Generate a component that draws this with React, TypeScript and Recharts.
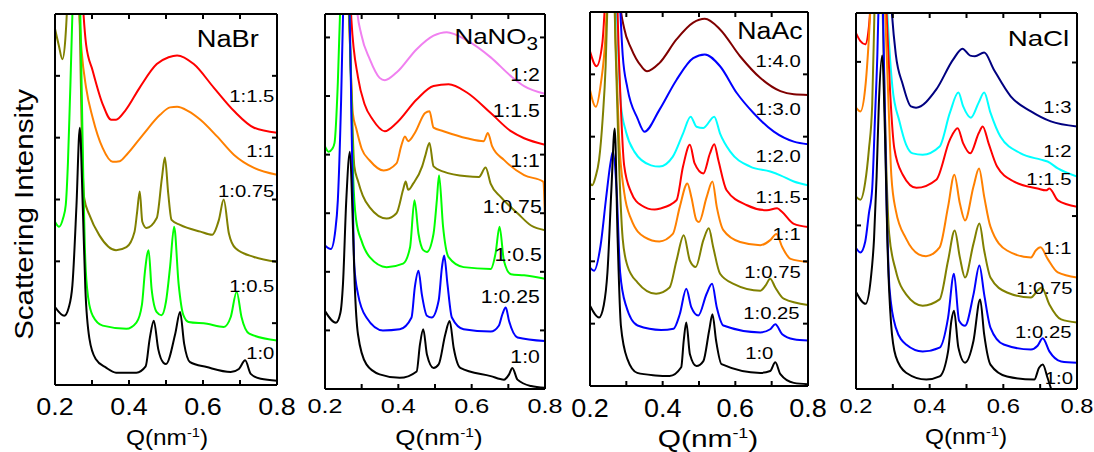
import { LineChart, Line, XAxis, YAxis, ReferenceDot } from "recharts"

type Pt = [number, number]

const FONT = '"Liberation Sans", Arial, sans-serif'
const H = 452
const qTicks = [0.2, 0.3, 0.4, 0.5, 0.6, 0.7, 0.8]

// NaBr
const nabr10: Pt[] = [[0.2,1.26],[0.225,1.12],[0.237,1.25],[0.247,1.61],[0.258,2.9],[0.267,4.16],[0.275,2.9],[0.282,1.56],[0.293,0.75],[0.31,0.42],[0.338,0.28],[0.365,0.2],[0.42,0.2],[0.445,0.3],[0.456,0.75],[0.467,1.04],[0.479,0.58],[0.493,0.36],[0.5,0.34],[0.525,0.83],[0.538,1.18],[0.549,0.67],[0.565,0.37],[0.61,0.29],[0.675,0.21],[0.697,0.26],[0.714,0.4],[0.729,0.18],[0.756,0.1],[0.8,0.07]]
const nabr105: Pt[] = [[0.2,2.64],[0.211,2.56],[0.222,2.7],[0.229,2.91],[0.235,3.6],[0.24,4.54],[0.247,6.0],[0.252,7.5],[0.262,7.5],[0.27,5.5],[0.276,3.5],[0.282,2.0],[0.29,1.4],[0.302,1.12],[0.329,0.96],[0.393,0.91],[0.42,1.01],[0.435,1.3],[0.443,1.83],[0.453,2.18],[0.461,1.56],[0.475,1.18],[0.488,1.13],[0.5,1.35],[0.511,1.91],[0.522,2.56],[0.534,1.64],[0.547,1.13],[0.561,1.02],[0.611,0.99],[0.656,0.94],[0.675,1.1],[0.691,1.51],[0.704,1.1],[0.725,0.83],[0.8,0.72]]
const nabr1075: Pt[] = [[0.2,5.76],[0.21,5.5],[0.22,5.27],[0.228,5.6],[0.234,6.3],[0.24,7.5],[0.26,7.5],[0.268,5.5],[0.273,3.9],[0.279,3.02],[0.293,2.75],[0.32,2.42],[0.365,2.18],[0.393,2.23],[0.415,2.48],[0.422,2.8],[0.429,3.13],[0.436,2.64],[0.447,2.54],[0.475,2.7],[0.489,3.35],[0.497,3.68],[0.506,3.1],[0.515,2.67],[0.538,2.59],[0.593,2.48],[0.625,2.43],[0.643,2.67],[0.656,3.0],[0.67,2.45],[0.688,2.21],[0.738,2.07],[0.8,1.99]]
const nabr11: Pt[] = [[0.245,8],[0.262,6.4],[0.272,5.4],[0.284,4.81],[0.302,4.32],[0.329,3.83],[0.356,3.61],[0.375,3.62],[0.393,3.72],[0.438,4.05],[0.484,4.37],[0.511,4.49],[0.53,4.5],[0.56,4.43],[0.593,4.29],[0.638,4.02],[0.684,3.72],[0.738,3.51],[0.8,3.4]]
const nabr115: Pt[] = [[0.262,8],[0.275,6.2],[0.284,5.51],[0.302,5.08],[0.329,4.54],[0.352,4.29],[0.365,4.29],[0.389,4.43],[0.429,4.81],[0.475,5.19],[0.507,5.3],[0.53,5.33],[0.575,5.19],[0.629,4.81],[0.684,4.43],[0.738,4.16],[0.8,4.08]]

// NaNO3
const nano10: Pt[] = [[0.2,1.33],[0.23,1.13],[0.242,1.3],[0.249,1.79],[0.258,3.22],[0.268,4.05],[0.275,3.0],[0.281,1.79],[0.29,0.93],[0.313,0.42],[0.349,0.25],[0.404,0.19],[0.45,0.3],[0.459,0.76],[0.468,1.02],[0.478,0.59],[0.496,0.36],[0.51,0.42],[0.528,0.93],[0.54,1.16],[0.551,0.7],[0.569,0.36],[0.652,0.22],[0.688,0.16],[0.702,0.25],[0.711,0.36],[0.725,0.16],[0.762,0.05],[0.8,0.02]]
const nano1025: Pt[] = [[0.2,2.45],[0.216,2.39],[0.228,2.7],[0.235,3.22],[0.244,4.94],[0.25,6.6],[0.258,7.5],[0.266,6.8],[0.273,4.3],[0.28,2.1],[0.29,1.62],[0.313,1.22],[0.358,1.0],[0.404,1.02],[0.436,1.22],[0.445,1.74],[0.455,2.02],[0.464,1.62],[0.478,1.25],[0.491,1.22],[0.51,1.51],[0.519,2.08],[0.525,2.28],[0.534,1.79],[0.546,1.22],[0.578,1.02],[0.652,0.98],[0.674,1.08],[0.684,1.28],[0.693,1.39],[0.702,1.16],[0.725,0.88],[0.8,0.82]]
const nano105: Pt[] = [[0.2,4.14],[0.21,4.05],[0.22,4.1],[0.226,4.2],[0.235,5.23],[0.242,6.6],[0.25,7.5],[0.262,7.5],[0.27,5.5],[0.277,3.6],[0.285,2.88],[0.299,2.54],[0.322,2.25],[0.368,2.08],[0.413,2.14],[0.432,2.42],[0.444,3.22],[0.455,2.65],[0.468,2.37],[0.478,2.34],[0.496,2.65],[0.505,3.22],[0.511,3.65],[0.522,2.77],[0.537,2.25],[0.578,2.08],[0.652,2.05],[0.665,2.31],[0.676,2.77],[0.688,2.19],[0.707,1.96],[0.743,1.94],[0.8,1.88]]
const nano1075: Pt[] = [[0.258,8],[0.27,5.5],[0.28,3.8],[0.29,3.55],[0.303,3.3],[0.322,3.1],[0.368,2.91],[0.395,3.0],[0.413,3.4],[0.42,3.54],[0.427,3.4],[0.441,3.51],[0.465,3.8],[0.473,3.97],[0.485,4.2],[0.496,3.8],[0.523,3.71],[0.587,3.63],[0.62,3.62],[0.638,3.78],[0.652,3.5],[0.679,3.28],[0.725,3.0],[0.762,2.79],[0.8,2.71]]
const nano11: Pt[] = [[0.25,8],[0.265,6.4],[0.276,4.7],[0.285,4.45],[0.3,4.1],[0.322,3.9],[0.36,3.73],[0.395,3.85],[0.408,4.15],[0.418,4.31],[0.427,4.23],[0.445,4.37],[0.473,4.71],[0.485,4.74],[0.496,4.46],[0.523,4.4],[0.587,4.28],[0.633,4.23],[0.644,4.37],[0.656,4.14],[0.688,3.91],[0.743,3.65],[0.795,3.54],[0.8,2.92]]
const nano115: Pt[] = [[0.262,8],[0.272,6.3],[0.29,5.32],[0.308,4.86],[0.33,4.6],[0.363,4.4],[0.395,4.54],[0.45,4.94],[0.496,5.17],[0.537,5.2],[0.587,5.06],[0.652,4.71],[0.707,4.4],[0.743,4.28],[0.8,4.17]]
const nano12: Pt[] = [[0.275,8.5],[0.287,6.5],[0.299,6.05],[0.322,5.63],[0.349,5.31],[0.363,5.27],[0.395,5.4],[0.45,5.8],[0.496,6.03],[0.532,6.09],[0.587,5.95],[0.652,5.66],[0.707,5.34],[0.743,5.17],[0.8,5.04]]

// NaAc
const naac10: Pt[] = [[0.2,1.29],[0.225,1.1],[0.238,1.3],[0.248,1.82],[0.259,3.17],[0.268,4.13],[0.276,2.37],[0.285,0.97],[0.303,0.43],[0.33,0.21],[0.38,0.17],[0.419,0.16],[0.451,0.3],[0.458,0.73],[0.465,1.02],[0.475,0.51],[0.493,0.32],[0.512,0.4],[0.528,0.89],[0.537,1.15],[0.547,0.73],[0.562,0.35],[0.669,0.21],[0.696,0.24],[0.71,0.38],[0.724,0.19],[0.761,0.05],[0.8,0.03]]
const naac1025: Pt[] = [[0.2,1.9],[0.211,1.85],[0.229,2.25],[0.244,3.0],[0.257,3.6],[0.263,3.76],[0.273,3.17],[0.283,1.82],[0.299,1.29],[0.331,0.97],[0.396,0.9],[0.43,0.92],[0.447,1.15],[0.465,1.56],[0.479,1.26],[0.498,1.13],[0.521,1.48],[0.536,1.64],[0.549,1.26],[0.567,0.97],[0.669,0.86],[0.696,0.91],[0.71,0.99],[0.729,0.83],[0.761,0.75],[0.8,0.73]]
const naac1075: Pt[] = [[0.2,3.25],[0.206,3.22],[0.215,3.35],[0.225,3.63],[0.235,4.3],[0.243,5.13],[0.25,6.5],[0.262,7.5],[0.27,5.5],[0.278,3.9],[0.29,2.36],[0.303,1.93],[0.331,1.66],[0.382,1.48],[0.419,1.58],[0.438,2.01],[0.458,2.42],[0.475,2.01],[0.491,1.91],[0.512,2.34],[0.527,2.53],[0.539,2.23],[0.558,1.8],[0.595,1.64],[0.669,1.53],[0.683,1.61],[0.696,1.72],[0.71,1.58],[0.733,1.4],[0.8,1.3]]
const naac11: Pt[] = [[0.2,4.75],[0.216,4.48],[0.23,4.86],[0.242,5.56],[0.25,6.6],[0.262,7.5],[0.27,5.6],[0.28,3.97],[0.294,3.11],[0.313,2.68],[0.35,2.39],[0.391,2.32],[0.428,2.44],[0.447,2.87],[0.468,3.25],[0.479,3.03],[0.493,2.66],[0.5,2.63],[0.521,3.03],[0.537,3.28],[0.549,2.87],[0.567,2.5],[0.613,2.31],[0.669,2.26],[0.696,2.34],[0.713,2.44],[0.729,2.23],[0.752,2.04],[0.8,1.99]]
const naac115: Pt[] = [[0.2,5.37],[0.218,5.13],[0.234,5.5],[0.242,6.2],[0.255,7.5],[0.27,7.0],[0.28,5.2],[0.294,3.54],[0.313,3.11],[0.341,2.9],[0.378,2.83],[0.395,2.85],[0.438,2.98],[0.456,3.52],[0.475,3.87],[0.488,3.57],[0.512,3.41],[0.53,3.73],[0.542,3.88],[0.553,3.63],[0.576,3.14],[0.632,2.9],[0.687,2.82],[0.715,2.85],[0.729,2.79],[0.761,2.6],[0.8,2.55]]
const naac120: Pt[] = [[0.262,8],[0.275,5.8],[0.285,4.51],[0.299,4.08],[0.322,3.76],[0.368,3.54],[0.391,3.52],[0.428,3.68],[0.456,4.05],[0.477,4.32],[0.493,4.16],[0.512,4.14],[0.542,4.32],[0.558,4.05],[0.586,3.76],[0.641,3.52],[0.696,3.44],[0.724,3.38],[0.761,3.28],[0.8,3.22]]
const naac130: Pt[] = [[0.27,8],[0.282,6.2],[0.29,5.31],[0.303,4.78],[0.331,4.29],[0.35,4.08],[0.391,4.43],[0.438,4.91],[0.484,5.26],[0.516,5.32],[0.558,5.13],[0.604,4.7],[0.65,4.38],[0.706,4.08],[0.761,3.92],[0.8,3.88]]
const naac140: Pt[] = [[0.268,9],[0.282,6.2],[0.294,5.74],[0.313,5.42],[0.341,5.13],[0.357,5.05],[0.391,5.18],[0.438,5.56],[0.484,5.83],[0.516,5.89],[0.558,5.72],[0.613,5.29],[0.669,4.94],[0.724,4.73],[0.761,4.68],[0.8,4.67]]

// NaCl
const nacl10: Pt[] = [[0.2,1.55],[0.226,1.36],[0.24,1.75],[0.249,2.4],[0.256,3.4],[0.262,4.54],[0.271,5.32],[0.279,4.0],[0.285,2.4],[0.295,1.06],[0.308,0.52],[0.336,0.26],[0.391,0.15],[0.427,0.2],[0.45,0.6],[0.459,1.09],[0.466,1.25],[0.478,0.66],[0.496,0.42],[0.519,0.77],[0.537,1.43],[0.548,0.87],[0.565,0.39],[0.61,0.2],[0.684,0.15],[0.697,0.34],[0.707,0.39],[0.72,0.18],[0.735,-0.1]]
const nacl1025: Pt[] = [[0.2,2.25],[0.212,2.18],[0.225,2.35],[0.235,2.8],[0.244,3.2],[0.252,4.4],[0.258,5.34],[0.263,6.5],[0.268,7.0],[0.274,5.8],[0.283,3.0],[0.291,1.6],[0.308,0.98],[0.336,0.71],[0.381,0.6],[0.427,0.66],[0.45,1.14],[0.466,1.84],[0.48,1.09],[0.496,1.01],[0.519,1.51],[0.535,1.97],[0.548,1.51],[0.565,0.98],[0.601,0.71],[0.675,0.63],[0.693,0.69],[0.707,0.81],[0.725,0.6],[0.757,0.44],[0.8,0.42]]
const nacl1075: Pt[] = [[0.2,3.07],[0.212,3.02],[0.225,3.3],[0.235,3.82],[0.244,4.54],[0.25,6.0],[0.256,7.5],[0.266,7.5],[0.274,5.6],[0.282,3.6],[0.29,2.48],[0.308,1.89],[0.336,1.51],[0.381,1.33],[0.427,1.43],[0.45,2.05],[0.468,2.53],[0.482,2.1],[0.496,1.78],[0.519,2.32],[0.535,2.64],[0.548,2.21],[0.565,1.78],[0.61,1.54],[0.675,1.46],[0.693,1.57],[0.704,1.62],[0.725,1.35],[0.757,1.11],[0.8,1.06]]
const nacl11: Pt[] = [[0.2,4.49],[0.212,4.43],[0.225,4.8],[0.235,5.6],[0.242,6.4],[0.25,7.5],[0.268,7.5],[0.278,6.2],[0.288,4.6],[0.296,3.4],[0.308,2.85],[0.336,2.4],[0.37,2.15],[0.39,2.12],[0.427,2.26],[0.45,2.91],[0.467,3.42],[0.482,2.96],[0.496,2.69],[0.519,3.23],[0.534,3.52],[0.548,3.07],[0.565,2.59],[0.61,2.21],[0.675,2.1],[0.688,2.21],[0.701,2.26],[0.72,2.08],[0.748,1.86],[0.8,1.78]]
const nacl115: Pt[] = [[0.2,5.68],[0.212,5.55],[0.225,5.5],[0.235,5.78],[0.242,6.4],[0.25,7.5],[0.272,7.5],[0.283,6.0],[0.293,4.7],[0.304,3.84],[0.327,3.42],[0.364,3.21],[0.418,3.34],[0.455,3.98],[0.476,4.16],[0.491,3.92],[0.51,3.76],[0.533,4.08],[0.544,4.19],[0.56,3.92],[0.583,3.55],[0.629,3.31],[0.693,3.2],[0.716,3.17],[0.725,3.2],[0.748,3.01],[0.8,2.91]]
const nacl12: Pt[] = [[0.27,8],[0.285,6.0],[0.299,4.81],[0.318,4.27],[0.336,3.9],[0.354,3.76],[0.381,3.74],[0.427,3.87],[0.455,4.41],[0.478,4.73],[0.491,4.51],[0.512,4.33],[0.533,4.57],[0.548,4.73],[0.565,4.41],[0.592,4.03],[0.647,3.76],[0.702,3.66],[0.72,3.63],[0.748,3.52],[0.8,3.39]]
const nacl13: Pt[] = [[0.28,8],[0.295,6.2],[0.308,5.34],[0.327,4.86],[0.349,4.51],[0.363,4.49],[0.418,4.78],[0.464,5.26],[0.489,5.43],[0.51,5.32],[0.523,5.31],[0.548,5.37],[0.574,5.1],[0.62,4.67],[0.675,4.43],[0.729,4.27],[0.8,4.19]]

const C = {
  black: "#000000",
  green: "#00ff00",
  olive: "#808000",
  orange: "#ff8000",
  red: "#ff0000",
  violet: "#f080f0",
  blue: "#0000ff",
  cyan: "#00ffff",
  maroon: "#800000",
  navy: "#000080",
}

type Series = { pts: Pt[]; color: string }
type Note = { q: number; v: number; text: string; anchor?: "start" | "end" }
type PanelProps = {
  left: number
  right: number
  top: number
  bottom: number
  yMax: number
  ticksL: number[]
  ticksR: number[]
  series: Series[]
  notes: Note[]
  title: { q: number; v: number; text: string; sub?: string; fs: number; sx: number }
  noteFs: number
  noteSx: number
  tickFs: number
  tickSx: number
  tickBase: number
}

const rows = (pts: Pt[]) => pts.map(([q, v]) => ({ q, v }))

function SText(props: { x: number; y: number; fs: number; sx: number; anchor?: string; children: any }) {
  const { x, y, fs, sx, anchor = "middle", children } = props
  return (
    <text
      transform={`translate(${x},${y}) scale(${sx},1)`}
      fontSize={fs}
      fontFamily={FONT}
      textAnchor={anchor as any}
      fill="#000"
    >
      {children}
    </text>
  )
}

function Panel(p: PanelProps) {
  const ml = 40
  const mr = 30
  const w = p.right - p.left + ml + mr
  const axisLine = { stroke: "#000", strokeWidth: 2 }
  const tickLine = { stroke: "#000", strokeWidth: 2 }
  // inward ticks: the axes are mirrored, the bottom labels are placed by hand
  const qTick = (t: any) => {
    const val = t.payload.value as number
    if (Math.round(val * 10) % 2 === 1) return <g />
    return (
      <SText x={t.x} y={p.tickBase} fs={p.tickFs} sx={p.tickSx}>
        {val.toFixed(1)}
      </SText>
    )
  }
  const none = () => <g />
  return (
    <div style={{ position: "absolute", left: p.left - ml, top: 0 }}>
      <LineChart
        width={w}
        height={H}
        margin={{ top: p.top - 1, right: mr - 1, bottom: H - p.bottom - 1, left: ml - 1 }}
      >
        <XAxis xAxisId="b" type="number" dataKey="q" domain={[0.2, 0.8]} ticks={qTicks} interval={0} mirror
          allowDataOverflow height={1} tickSize={5} tickMargin={0} stroke="#000" axisLine={axisLine} tickLine={tickLine} tick={qTick} />
        <XAxis xAxisId="t" orientation="top" type="number" dataKey="q" domain={[0.2, 0.8]} ticks={qTicks} interval={0} mirror
          allowDataOverflow height={1} tickSize={5} stroke="#000" axisLine={axisLine} tickLine={tickLine} tick={none} />
        <YAxis yAxisId="l" type="number" domain={[0, p.yMax]} ticks={p.ticksL} interval={0} mirror
          allowDataOverflow width={1} tickSize={5} stroke="#000" axisLine={axisLine} tickLine={tickLine} tick={none} />
        <YAxis yAxisId="r" orientation="right" type="number" domain={[0, p.yMax]} ticks={p.ticksR} interval={0} mirror
          allowDataOverflow width={1} tickSize={5} stroke="#000" axisLine={axisLine} tickLine={tickLine} tick={none} />
        {p.series.map((s, i) => (
          <Line key={i} xAxisId="b" yAxisId="l" data={rows(s.pts)} dataKey="v" type="monotone"
            stroke={s.color} strokeWidth={2} dot={false} activeDot={false} isAnimationActive={false} />
        ))}
        {p.notes.map((n, i) => (
          <ReferenceDot key={"n" + i} xAxisId="b" yAxisId="l" x={n.q} y={n.v} r={0} ifOverflow="visible"
            shape={(d: any) => (
              <SText x={d.cx} y={d.cy} fs={p.noteFs} sx={p.noteSx} anchor={n.anchor ?? "end"}>
                {n.text}
              </SText>
            )}
          />
        ))}
        <ReferenceDot xAxisId="b" yAxisId="l" x={p.title.q} y={p.title.v} r={0} ifOverflow="visible"
          shape={(d: any) => (
            <SText x={d.cx} y={d.cy} fs={p.title.fs} sx={p.title.sx} anchor="end">
              {p.title.text}
              {p.title.sub ? (
                <tspan fontSize={p.title.fs * 0.8} dy={p.title.fs * 0.3}>{p.title.sub}</tspan>
              ) : null}
            </SText>
          )}
        />
      </LineChart>
    </div>
  )
}

const panels: PanelProps[] = [
  {
    left: 56, right: 276, top: 15, bottom: 384, yMax: 6,
    ticksL: [1, 2, 3, 4, 5], ticksR: [1, 2, 3, 4, 5],
    series: [
      { pts: nabr115, color: C.red },
      { pts: nabr11, color: C.orange },
      { pts: nabr1075, color: C.olive },
      { pts: nabr105, color: C.green },
      { pts: nabr10, color: C.black },
    ],
    notes: [
      { q: 0.793, v: 4.57, text: "1:1.5" },
      { q: 0.793, v: 3.69, text: "1:1" },
      { q: 0.793, v: 3.04, text: "1:0.75" },
      { q: 0.793, v: 1.5, text: "1:0.5" },
      { q: 0.793, v: 0.42, text: "1:0" },
    ],
    title: { q: 0.751, v: 5.46, text: "NaBr", fs: 23.5, sx: 1.16 },
    noteFs: 16.5, noteSx: 1.23, tickFs: 23, tickSx: 1.17, tickBase: 415,
  },
  {
    left: 326, right: 544, top: 15, bottom: 388, yMax: 6.4,
    ticksL: [1, 2, 3, 4, 5, 6], ticksR: [1, 2, 3, 4, 5, 6],
    series: [
      { pts: nano12, color: C.violet },
      { pts: nano115, color: C.red },
      { pts: nano11, color: C.orange },
      { pts: nano1075, color: C.olive },
      { pts: nano105, color: C.green },
      { pts: nano1025, color: C.blue },
      { pts: nano10, color: C.black },
    ],
    notes: [
      { q: 0.786, v: 5.25, text: "1:2" },
      { q: 0.786, v: 4.65, text: "1:1.5" },
      { q: 0.786, v: 3.79, text: "1:1" },
      { q: 0.791, v: 3.0, text: "1:0.75" },
      { q: 0.791, v: 2.19, text: "1:0.5" },
      { q: 0.786, v: 1.46, text: "1:0.25" },
      { q: 0.786, v: 0.44, text: "1:0" },
    ],
    title: { q: 0.781, v: 5.89, text: "NaNO", sub: "3", fs: 22, sx: 1.18 },
    noteFs: 18, noteSx: 1.18, tickFs: 21, tickSx: 1.2, tickBase: 413,
  },
  {
    left: 591, right: 807, top: 13, bottom: 385, yMax: 6,
    ticksL: [1, 2, 3, 4, 5], ticksR: [1, 2, 3, 4, 5],
    series: [
      { pts: naac140, color: C.maroon },
      { pts: naac130, color: C.blue },
      { pts: naac120, color: C.cyan },
      { pts: naac115, color: C.red },
      { pts: naac11, color: C.orange },
      { pts: naac1075, color: C.olive },
      { pts: naac1025, color: C.blue },
      { pts: naac10, color: C.black },
    ],
    notes: [
      { q: 0.78, v: 5.11, text: "1:4.0" },
      { q: 0.78, v: 4.35, text: "1:3.0" },
      { q: 0.78, v: 3.59, text: "1:2.0" },
      { q: 0.78, v: 2.93, text: "1:1.5" },
      { q: 0.78, v: 2.34, text: "1:1" },
      { q: 0.78, v: 1.73, text: "1:0.75" },
      { q: 0.777, v: 1.08, text: "1:0.25" },
      { q: 0.627, v: 0.44, text: "1:0", anchor: "start" },
    ],
    title: { q: 0.785, v: 5.56, text: "NaAc", fs: 23, sx: 1.16 },
    noteFs: 16.5, noteSx: 1.23, tickFs: 25, tickSx: 1.08, tickBase: 417,
  },
  {
    left: 857, right: 1076, top: 14, bottom: 388, yMax: 6,
    ticksL: [2.61, 5.22], ticksR: [2.76, 5.21],
    series: [
      { pts: nacl13, color: C.navy },
      { pts: nacl12, color: C.cyan },
      { pts: nacl115, color: C.red },
      { pts: nacl11, color: C.orange },
      { pts: nacl1075, color: C.olive },
      { pts: nacl1025, color: C.blue },
      { pts: nacl10, color: C.black },
    ],
    notes: [
      { q: 0.785, v: 4.41, text: "1:3" },
      { q: 0.785, v: 3.7, text: "1:2" },
      { q: 0.785, v: 3.25, text: "1:1.5" },
      { q: 0.785, v: 2.16, text: "1:1" },
      { q: 0.788, v: 1.52, text: "1:0.75" },
      { q: 0.785, v: 0.81, text: "1:0.25" },
      { q: 0.789, v: 0.08, text: "1:0" },
    ],
    title: { q: 0.779, v: 5.47, text: "NaCl", fs: 22, sx: 1.26 },
    noteFs: 16.5, noteSx: 1.23, tickFs: 21, tickSx: 1.13, tickBase: 413,
  },
]

// x axis titles: centre x, baseline, size, stretch
const qTitles = [
  { x: 167, y: 445, fs: 22, sx: 1.11 },
  { x: 439, y: 445, fs: 22, sx: 1.18 },
  { x: 708, y: 447, fs: 23, sx: 1.3 },
  { x: 966, y: 444, fs: 22, sx: 1.11 },
]

export default function App() {
  return (
    <div style={{ position: "absolute", left: 0, top: 0, width: 1094, height: H, background: "#fff", fontFamily: FONT }}>
      {panels.map((p, i) => (
        <Panel key={i} {...p} />
      ))}
      <svg width={1094} height={H} style={{ position: "absolute", left: 0, top: 0, pointerEvents: "none" }}>
        <text transform="translate(33,214.5) rotate(-90) scale(1.18,1)" fontSize={25} fontFamily={FONT} textAnchor="middle" fill="#000">
          Scattering Intensity
        </text>
        {qTitles.map((t, i) => (
          <SText key={i} x={t.x} y={t.y} fs={t.fs} sx={t.sx}>
            <tspan>Q(nm</tspan>
            <tspan fontSize={t.fs * 0.6} dy={-t.fs * 0.38}>-1</tspan>
            <tspan dy={t.fs * 0.38}>)</tspan>
          </SText>
        ))}
      </svg>
    </div>
  )
}
